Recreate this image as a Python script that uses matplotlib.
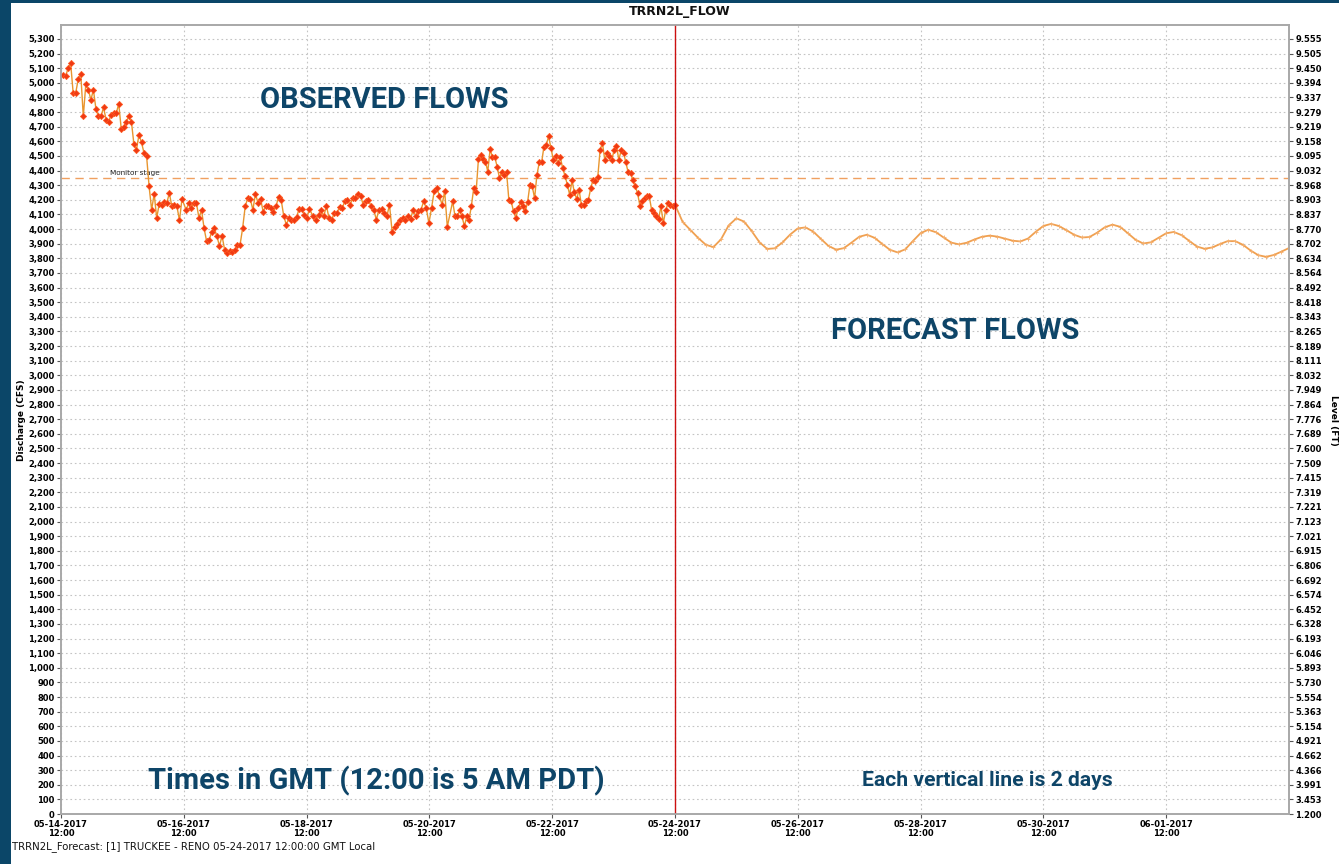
import numpy as np
import pandas as pd
import matplotlib
matplotlib.use("Agg")
import matplotlib.pyplot as plt
from matplotlib.patches import Rectangle
import matplotlib.transforms as mtransforms

# ---------------- data ----------------
obs_origin = "2017-05-14 12:00"
# observed readings, in four stretches; each stretch: (first hour, last hour) after the origin
obs_seg1_hours = (0.8, 47.3)
obs_seg1_cfs = [5055, 5043, 5100, 5134, 4930, 4930, 5025, 5061, 4770, 4991, 4952, 4884, 4952, 4820,
                4770, 4770, 4832, 4747, 4735, 4781, 4796, 4790, 4856, 4683, 4700, 4735, 4770, 4735,
                4580, 4542, 4644, 4592, 4519, 4500, 4291, 4131, 4241, 4075, 4172, 4165, 4188, 4180,
                4245, 4154, 4165, 4154, 4060, 4206]
obs_seg2_hours = (48.9, 97.1)
obs_seg2_cfs = [4131, 4177, 4143, 4181, 4180, 4075, 4131, 4005, 3915, 3926, 3983, 4005, 3949, 3885,
                3953, 3858, 3838, 3852, 3845, 3858, 3892, 3892, 4005, 4154, 4211, 4205, 4131, 4241,
                4177, 4205, 4118, 4158, 4154, 4143, 4118, 4154, 4222, 4200, 4090, 4029, 4075, 4059,
                4059, 4084, 4136, 4136, 4097, 4075, 4136]
obs_seg3_hours = (98.6, 151.0)
obs_seg3_cfs = [4086, 4064, 4098, 4132, 4086, 4159, 4075, 4064, 4109, 4109, 4150, 4143, 4189, 4200,
                4166, 4211, 4211, 4241, 4228, 4166, 4189, 4200, 4155, 4132, 4064, 4132, 4136, 4109,
                4086, 4166, 3983, 4016, 4036, 4064, 4075, 4064, 4086, 4068, 4132, 4086, 4120, 4132,
                4189, 4143, 4040, 4143, 4257, 4280, 4228, 4166, 4257, 4016]
obs_seg4_hours = (153.1, 240.0)
obs_seg4_cfs = [4189, 4086, 4086, 4127, 4086, 4018, 4086, 4064, 4159, 4280, 4250, 4478, 4507, 4478,
                4461, 4393, 4546, 4491, 4491, 4427, 4348, 4393, 4370, 4393, 4200, 4189, 4120, 4075,
                4143, 4182, 4155, 4120, 4182, 4302, 4291, 4211, 4370, 4455, 4455, 4564, 4575, 4633,
                4553, 4473, 4496, 4450, 4491, 4416, 4364, 4302, 4234, 4332, 4250, 4205, 4268, 4166,
                4166, 4189, 4200, 4280, 4337, 4325, 4355, 4541, 4587, 4473, 4519, 4496, 4473, 4541,
                4569, 4473, 4537, 4523, 4455, 4387, 4382, 4337, 4291, 4246, 4159, 4189, 4211, 4223,
                4223, 4132, 4109, 4086, 4068, 4155, 4040, 4127, 4177, 4166, 4155, 4166]

fc_start = "2017-05-24 12:00"
fc_step_hours = 3
fc_cfs = [4166, 4048, 3994, 3940, 3893, 3876, 3930, 4025, 4073, 4051, 3985, 3910, 3864,
          3868, 3908, 3962, 4004, 4011, 3983, 3933, 3884, 3859, 3869, 3907, 3947, 3961,
          3940, 3898, 3858, 3840, 3861, 3918, 3972, 3995, 3978, 3942, 3907, 3895, 3906,
          3928, 3947, 3955, 3948, 3934, 3920, 3915, 3935, 3981, 4021, 4035, 4021, 3992,
          3961, 3942, 3945, 3975, 4012, 4030, 4015, 3971, 3927, 3901, 3909, 3940, 3971,
          3980, 3958, 3919, 3880, 3865, 3874, 3897, 3917, 3917, 3892, 3853, 3821, 3810,
          3822, 3845, 3870]

monitor_stage = 4350
monitor_label = "Monitor stage"
forecast_time = "2017-05-24 12:00"

left_ticks = list(range(0, 5301, 100))
level_labels_top_down = ["9.555", "9.505", "9.450", "9.394", "9.337", "9.279", "9.219", "9.158",
                         "9.095", "9.032", "8.968", "8.903", "8.837", "8.770", "8.702", "8.634",
                         "8.564", "8.492", "8.418", "8.343", "8.265", "8.189", "8.111", "8.032",
                         "7.949", "7.864", "7.776", "7.689", "7.600", "7.509", "7.415", "7.319",
                         "7.221", "7.123", "7.021", "6.915", "6.806", "6.692", "6.574", "6.452",
                         "6.328", "6.193", "6.046", "5.893", "5.730", "5.554", "5.363", "5.154",
                         "4.921", "4.662", "4.366", "3.991", "3.453", "1.200"]
x_start = "2017-05-14 12:00"
x_end = "2017-06-03 12:00"

title = "TRRN2L_FLOW"
footer = "TRRN2L_Forecast: [1] TRUCKEE - RENO 05-24-2017 12:00:00 GMT Local"

# ---------------- build series ----------------
origin = pd.Timestamp(obs_origin)
obs_t_parts, obs_v_parts = [], []
for (h0, h1), vals in [(obs_seg1_hours, obs_seg1_cfs), (obs_seg2_hours, obs_seg2_cfs),
                       (obs_seg3_hours, obs_seg3_cfs), (obs_seg4_hours, obs_seg4_cfs)]:
    hrs = np.linspace(h0, h1, len(vals))
    obs_t_parts.append(origin + pd.to_timedelta(hrs, unit="h"))
    obs_v_parts.append(np.asarray(vals, dtype=float))
obs_t = pd.DatetimeIndex(np.concatenate([p.values for p in obs_t_parts]))
obs_v = np.concatenate(obs_v_parts)

fc_t = pd.date_range(fc_start, periods=len(fc_cfs), freq=f"{fc_step_hours}h")

# ---------------- figure ----------------
W, H = 1339, 864
fig = plt.figure(figsize=(W / 100, H / 100), dpi=100)
navy = "#0b4668"
fig.patch.set_facecolor(navy)
fig.patches.append(Rectangle((11 / W, 0), 1 - 11 / W, 1 - 3 / H, transform=fig.transFigure,
                             facecolor="white", edgecolor="none", zorder=-10))

def fx(px):
    return px / W

def fy(py):
    return 1 - py / H

ax = fig.add_axes([fx(61), fy(814), fx(1289) - fx(61), fy(25) - fy(814)])
ax.set_facecolor("white")

ax.plot(fc_t, fc_cfs, color="#f0a050", lw=1.3, marker="+", ms=3, mec="#f5b070", mew=0.6, zorder=3)
ax.plot(obs_t, obs_v, color="#e8952e", lw=1.0, zorder=4)
ax.plot(obs_t, obs_v, ls="none", marker="D", ms=3.2, mfc="#f03a14", mec="#ff5a20", mew=0.5, zorder=5)

ax.axhline(monitor_stage, color="#f0a060", lw=1.0, ls=(0, (6, 4)), zorder=2)
trans = mtransforms.blended_transform_factory(ax.transAxes, ax.transData)
ax.annotate(monitor_label, xy=(0.04, monitor_stage), xycoords=trans, xytext=(0, 1.5),
            textcoords="offset points", fontsize=5.2, color="#222222", va="bottom", ha="left")
ax.axvline(pd.Timestamp(forecast_time), color="#cc1010", lw=1.0, zorder=6)

ax.set_xlim(pd.Timestamp(x_start), pd.Timestamp(x_end))
ax.set_ylim(0, 5395)

xt = pd.date_range(x_start, x_end, freq="2D")[:-1]
ax.set_xticks(xt)
ax.set_xticklabels([t.strftime("%m-%d-%Y\n%H:%M") for t in xt], fontsize=6, fontweight="bold",
                   linespacing=1.0)
ax.set_yticks(left_ticks)
ax.set_yticklabels([f"{v:,}" for v in left_ticks], fontsize=6, fontweight="bold")
ax.tick_params(axis="both", length=3, width=0.8, color="#555555", pad=1.5)

ax.grid(True, color="#c4c4c4", lw=0.8, ls=(0, (1.5, 2.5)))
ax.set_axisbelow(True)
for s in ax.spines.values():
    s.set_color("#a8a8a8")
    s.set_linewidth(1.2)

ax2 = ax.twinx()
ax2.set_ylim(ax.get_ylim())
ax2.set_yticks(left_ticks)
ax2.set_yticklabels(level_labels_top_down[::-1], fontsize=6, fontweight="bold")
ax2.tick_params(axis="y", length=3, width=0.8, color="#555555", pad=1.5)
for s in ax2.spines.values():
    s.set_color("#a8a8a8")
    s.set_linewidth(1.2)

fig.text(fx(680), fy(12), title, ha="center", va="center", fontsize=9, fontweight="bold", color="#111111")
fig.text(fx(22), fy(420), "Discharge (CFS)", rotation=90, ha="center", va="center", fontsize=6.5,
         fontweight="bold")
fig.text(fx(1333), fy(420), "Level (FT)", rotation=270, ha="center", va="center", fontsize=6.5,
         fontweight="bold")
fig.text(fx(12), fy(847), footer, ha="left", va="center", fontsize=7.3, color="#111111")

ann = "#0e4568"
fig.text(fx(384), fy(100), "OBSERVED FLOWS", ha="center", va="center", fontsize=21,
         fontweight="bold", color=ann, family="Roboto")
fig.text(fx(955), fy(331), "FORECAST FLOWS", ha="center", va="center", fontsize=21,
         fontweight="bold", color=ann, family="Roboto")
fig.text(fx(376), fy(781), "Times in GMT (12:00 is 5 AM PDT)", ha="center", va="center",
         fontsize=21, fontweight="bold", color=ann, family="Roboto")
fig.text(fx(987), fy(781), "Each vertical line is 2 days", ha="center", va="center", fontsize=15.2,
         fontweight="bold", color=ann, family="Roboto")

fig.savefig("out.png", dpi=100, facecolor=fig.get_facecolor())
